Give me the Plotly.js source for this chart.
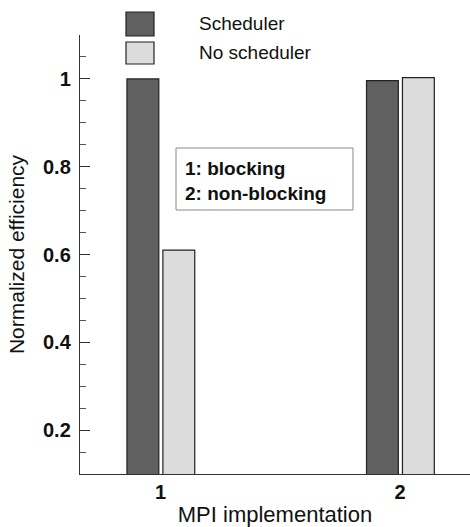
<!DOCTYPE html>
<html>
<head>
<meta charset="utf-8">
<script src="https://cdn.plot.ly/plotly-3.0.1.min.js"></script>
<style>html,body{margin:0;padding:0;background:#fff;}#chart{width:470px;height:527px;}</style>
</head>
<body>
<div id="chart"></div>
<script>
// Data
var categories = [1, 2];
var categoryLabels = ['1', '2'];
var seriesNames = ['Scheduler', 'No scheduler'];
var schedulerValues = [1.0, 0.996];
var noSchedulerValues = [0.61, 1.003];
var noteLines = ['1: blocking', '2: non-blocking'];

var FONT = 'Liberation Sans, Arial, Helvetica, sans-serif';
var darkColor = '#606060';
var lightColor = '#dcdcdc';

var traces = [
  {
    type: 'bar', name: seriesNames[0], x: categories, y: schedulerValues,
    width: 0.133, offset: -0.14,
    marker: {color: darkColor, line: {color: '#222', width: 1.2}},
    showlegend: false, hoverinfo: 'skip'
  },
  {
    type: 'bar', name: seriesNames[1], x: categories, y: noSchedulerValues,
    width: 0.133, offset: 0.01,
    marker: {color: lightColor, line: {color: '#222', width: 1.2}},
    showlegend: false, hoverinfo: 'skip'
  }
];

// plot area px helpers (paper coords)
var L = 80, R = 470, T = 35, B = 474;
function px(x) { return (x - L) / (R - L); }
function py(y) { return (B - y) / (B - T); }

var layout = {
  width: 470, height: 527,
  margin: {l: 80, r: 0, t: 35, b: 53, pad: 0},
  paper_bgcolor: '#fff', plot_bgcolor: '#fff',
  font: {family: FONT, color: '#111', size: 19},
  barmode: 'overlay',
  xaxis: {
    range: [0.664, 2.292],
    tickvals: categories, ticktext: categoryLabels,
    ticks: '', showgrid: false, zeroline: false,
    showline: true, linecolor: '#333', linewidth: 1.2,
    tickfont: {family: FONT, size: 20, weight: 'bold', color: '#111'},
    title: {text: 'MPI implementation', font: {family: FONT, size: 22, color: '#111'}, standoff: 4}
  },
  yaxis: {
    range: [0.1, 1.1],
    tick0: 0, dtick: 0.2,
    ticks: 'inside', ticklen: 10, tickwidth: 1, tickcolor: '#333',
    ticklabelstandoff: 4,
    minor: {dtick: 0.05, tick0: 0, ticks: 'inside', ticklen: 6, tickwidth: 1, tickcolor: '#555', showgrid: false},
    showgrid: false, zeroline: false,
    showline: true, linecolor: '#333', linewidth: 1.2,
    tickfont: {family: FONT, size: 20, weight: 'bold', color: '#111'},
    title: {text: 'Normalized efficiency', font: {family: FONT, size: 21, color: '#111'}, standoff: 12}
  },
  shapes: [
    {type: 'rect', xref: 'paper', yref: 'paper', x0: px(126), x1: px(154), y0: py(36), y1: py(12),
     fillcolor: darkColor, line: {color: '#222', width: 1.2}},
    {type: 'rect', xref: 'paper', yref: 'paper', x0: px(126), x1: px(154), y0: py(64), y1: py(42),
     fillcolor: lightColor, line: {color: '#222', width: 1.2}},
    {type: 'rect', xref: 'paper', yref: 'paper', x0: px(176), x1: px(353), y0: py(210), y1: py(148),
     fillcolor: 'rgba(0,0,0,0)', line: {color: '#888', width: 1}}
  ],
  annotations: [
    {xref: 'paper', yref: 'paper', x: px(197), y: py(24), xanchor: 'left', yanchor: 'middle',
     text: seriesNames[0], showarrow: false, font: {family: FONT, size: 19, color: '#111'}},
    {xref: 'paper', yref: 'paper', x: px(197), y: py(53), xanchor: 'left', yanchor: 'middle',
     text: seriesNames[1], showarrow: false, font: {family: FONT, size: 19, color: '#111'}},
    {xref: 'paper', yref: 'paper', x: px(183), y: py(181), xanchor: 'left', yanchor: 'middle', align: 'left',
     text: '<b>' + noteLines.join('</b><br><b>') + '</b>', showarrow: false,
     font: {family: FONT, size: 19, color: '#111'}}
  ]
};

Plotly.newPlot('chart', traces, layout, {displayModeBar: false, staticPlot: true});
</script>
</body>
</html>
